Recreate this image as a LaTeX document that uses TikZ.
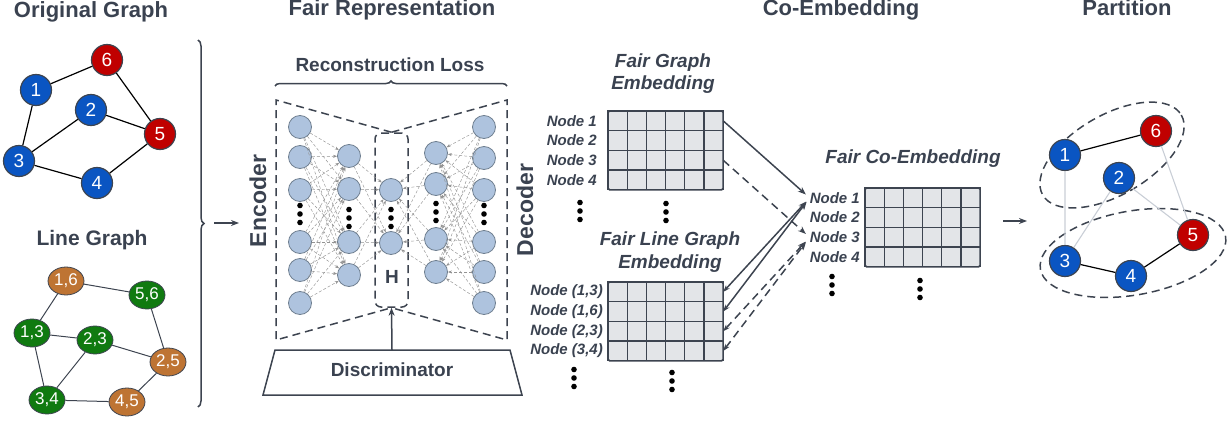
\documentclass[tikz,border=0pt]{standalone}
\usepackage{fontspec}
\setmainfont{Liberation Sans}
\usetikzlibrary{arrows.meta,decorations.pathreplacing,shapes.geometric}
\definecolor{txt}{HTML}{3A4250}
\definecolor{gblue}{HTML}{0A55C2}
\definecolor{gred}{HTML}{C00000}
\definecolor{lorange}{HTML}{BE7433}
\definecolor{lgreen}{HTML}{107A10}
\definecolor{nnfill}{HTML}{AEC3DE}
\definecolor{nnline}{HTML}{6F7F90}
\definecolor{cellfill}{HTML}{E3E5E8}
\definecolor{ln}{HTML}{3D4450}
\definecolor{lightedge}{HTML}{C9CED6}
\newcommand\setfs[1]{\fontsize{#1}{#1}\selectfont}
\newcommand\embgrid[3]{%
  \foreach \rr in {0,...,3}{\foreach \cc in {0,...,5}{\draw[cell] ({#2+\cc*19.2},{#3+\rr*19.7}) rectangle ++(19.2,19.7);}}
  \node[gridbox,minimum width=115.2pt,minimum height=78.8pt] (#1) at (#2,#3) {};}
\begin{document}
\begin{tikzpicture}[x=1pt,y=-1pt,
 title/.style={text=txt,font=\setfs{22}\bfseries,anchor=base,inner sep=0},
 sub/.style={text=txt,font=\setfs{19}\bfseries,anchor=base,inner sep=0},
 emb/.style={text=txt,font=\setfs{19}\bfseries\itshape,anchor=base,inner sep=0},
 rowlab/.style={text=txt,font=\setfs{15}\bfseries\itshape,anchor=east,inner sep=0},
 gnode/.style={circle,draw=ln,line width=1.2pt,minimum size=31pt,inner sep=0,text=white,font=\setfs{19}},
 bn/.style={gnode,fill=gblue},
 rn/.style={gnode,fill=gred},
 lnode/.style={ellipse,draw=ln,line width=0.8pt,minimum width=36pt,minimum height=28pt,inner sep=0,text=white,font=\setfs{17}},
 onode/.style={lnode,fill=lorange},
 gnd/.style={lnode,fill=lgreen},
 gedge/.style={black,line width=1.2pt},
 ledge/.style={ln,line width=1pt},
 lightgedge/.style={lightedge,line width=1.1pt},
 nn/.style={circle,draw=nnline,fill=nnfill,line width=0.8pt,minimum size=23pt,inner sep=0},
 nnedge/.style={densely dashed,gray!85,line width=0.45pt,-{Stealth[length=4pt,width=3pt]}},
 bigdash/.style={ln,line width=1.5pt,dash pattern=on 8pt off 5pt},
 cell/.style={fill=cellfill,draw=ln,line width=1.3pt},
 gridbox/.style={draw=ln,line width=1.5pt,rounded corners=1.5pt,inner sep=0,outer sep=0,anchor=north west},
 conn/.style={ln,line width=1.5pt,-{Stealth[length=8pt,width=6pt]}},
 dconn/.style={conn,dash pattern=on 8pt off 5pt},
 biconn/.style={ln,line width=1.5pt,{Stealth[length=7pt,width=5pt]}-{Stealth[length=8pt,width=6pt]}},
 dbiconn/.style={biconn,dash pattern=on 8pt off 5pt},
 vd/.pic={\fill (0,-8.5) circle (2.8); \fill (0,0) circle (2.8); \fill (0,8.5) circle (2.8);},
]
\useasboundingbox (0,0) rectangle (1232,423);

% titles
\node[title] (t1) at (91,17) {Original Graph};
\node[title] (t2) at (392,16) {Fair Representation};
\node[title] (t3) at (841,16) {Co-Embedding};
\node[title] (t4) at (1127,16) {Partition};
\node[title,font=\setfs{21}\bfseries] (t5) at (92,245) {Line Graph};

% original graph
\node[rn] (o6) at (107,60) {6};
\node[bn] (o1) at (36,90) {1};
\node[bn] (o2) at (91,110) {2};
\node[rn] (o5) at (160,134) {5};
\node[bn] (o3) at (19,161) {3};
\node[bn] (o4) at (97,183) {4};
\draw[gedge] (o1)--(o6) (o6)--(o5) (o2)--(o5) (o1)--(o3) (o3)--(o2) (o3)--(o4) (o4)--(o5);

% line graph
\node[onode] (l16) at (66,281) {1,6};
\node[gnd] (l56) at (147,295) {5,6};
\node[gnd] (l13) at (32,333) {1,3};
\node[gnd] (l23) at (95,340) {2,3};
\node[onode] (l25) at (168,362) {2,5};
\node[gnd] (l34) at (47,400) {3,4};
\node[onode] (l45) at (127,402) {4,5};
\draw[ledge] (l16)--(l56) (l16)--(l13) (l56)--(l25) (l13)--(l23) (l13)--(l34) (l23)--(l25) (l23)--(l34) (l34)--(l45) (l45)--(l25);

% left brace and arrow
\coordinate (brt) at (198,40);
\coordinate (brb) at (198,407);
\draw[ln,line width=1.5pt,decorate,decoration={brace,amplitude=6pt}] (brt) -- (brb);
\coordinate (ar1s) at (214,223);
\coordinate (ar1e) at (239,223);
\draw[conn] (ar1s) -- (ar1e);

% reconstruction loss
\node[sub] (rl) at (390,71) {Reconstruction Loss};
\coordinate (rbl) at (275,86);
\coordinate (rbr) at (507,86);
\draw[ln,line width=1.5pt,decorate,decoration={brace,amplitude=5pt}] (rbl) -- (rbr);

% H box and outlines
\node[bigdash,draw,rounded corners=6pt,minimum width=33pt,minimum height=174pt,inner sep=0] (hbox) at (391.5,220) {};
\node[sub] (hl) at (392,283) {H};
\coordinate (oltl) at (276,100);
\coordinate (olbl) at (276,340);
\coordinate (ortr) at (507,100);
\coordinate (orbr) at (507,340);
\draw[bigdash] (hbox.north) -- (oltl) -- (olbl) -- (hbox.south);
\draw[bigdash] (hbox.north) -- (ortr) -- (orbr) -- (hbox.south);

% encoder / decoder labels
\node[rotate=90,text=txt,font=\setfs{23}\bfseries] (enc) at (258,201) {Encoder};
\node[rotate=90,text=txt,font=\setfs{23}\bfseries] (dec) at (525,210) {Decoder};

% network
\foreach \y [count=\i] in {127,157,190,242,270,303} \node[nn] (a\i) at (300,\y) {};
\foreach \y [count=\i] in {156,189,242,275} \node[nn] (b\i) at (349,\y) {};
\foreach \y [count=\i] in {190,243} \node[nn] (c\i) at (391,\y) {};
\foreach \y [count=\i] in {153,184,239,272} \node[nn] (d\i) at (436,\y) {};
\foreach \y [count=\i] in {127,158,190,242,272,303} \node[nn] (e\i) at (484,\y) {};
\foreach \i in {1,...,6}{\foreach \j in {1,...,4}{\draw[nnedge] (a\i) -- (b\j); \draw[nnedge] (e\i) -- (d\j);}}
\foreach \i in {1,...,4}{\foreach \j in {1,2}{\draw[nnedge] (b\i) -- (c\j); \draw[nnedge] (d\i) -- (c\j);}}
\pic at (300,214) {vd};
\pic at (349,218) {vd};
\pic at (391,218) {vd};
\pic at (436,212) {vd};
\pic at (484,214) {vd};

% discriminator
\coordinate (dtl) at (275,350);
\coordinate (dtr) at (510,350);
\coordinate (dbr) at (522,395);
\coordinate (dbl) at (263,395);
\draw[ln,line width=1.5pt] (dtl) -- (dtr) -- (dbr) -- (dbl) -- cycle;
\node[sub] (disc) at (392,376) {Discriminator};
\coordinate (dtop) at (392,350);
\draw[conn] (dtop) -- (hbox.south);

% fair graph embedding
\node[emb] (fgt1) at (663,67) {Fair Graph};
\node[emb] (fgt2) at (663,89) {Embedding};
\embgrid{fg}{608}{111}
\foreach \k [count=\i] in {1,2,3,4}{
  \node[rowlab] (fl\i) at (597,{120.85+(\i-1)*19.7}) {Node \k};
  \coordinate (fgr\i) at (723.2,{120.85+(\i-1)*19.7});}
\pic at (580,211) {vd};
\pic at (666,212) {vd};

% fair line graph embedding
\node[emb] (lgt1) at (670,245) {Fair Line Graph};
\node[emb] (lgt2) at (670,268) {Embedding};
\embgrid{lg}{608}{282}
\foreach \k [count=\i] in {(1,3),(1,6),(2,3),(3,4)}{
  \node[rowlab] (ll\i) at (603,{291.85+(\i-1)*19.7}) {Node \k};
  \coordinate (lgr\i) at (723.2,{291.85+(\i-1)*19.7});}
\pic at (574,378) {vd};
\pic at (672,381) {vd};

% co-embedding
\node[emb] (cot) at (913,163) {Fair Co-Embedding};
\embgrid{co}{865}{188}
\foreach \k [count=\i] in {1,2,3,4}{
  \node[rowlab] (cl\i) at (860,{197.85+(\i-1)*19.7}) {Node \k};}
\pic at (832,285) {vd};
\pic at (920,289) {vd};

% connectors to co-embedding
\draw[conn,shorten >=5pt] (fgr1) -- (cl1.west);
\draw[dconn,shorten >=5pt] (fgr3) -- (cl3.west);
\draw[biconn,shorten >=5pt] (lgr1) -- (cl1.west);
\draw[biconn,shorten >=5pt] (lgr2) -- (cl1.west);
\draw[dbiconn,shorten >=6pt] (lgr3) -- (cl3.west);
\draw[dbiconn,shorten >=6pt] (lgr4) -- (cl3.west);

% arrow to partition
\coordinate (ar2s) at (1003,221);
\coordinate (ar2e) at (1027,221);
\draw[conn] (ar2s) -- (ar2e);

% partition
\draw[bigdash,rotate around={30:(1112,155)}] (1112,155) ellipse [x radius=80, y radius=40];
\draw[bigdash,rotate around={10:(1133,253)}] (1133,253) ellipse [x radius=94, y radius=42];
\node[rn] (p6) at (1156,131) {6};
\node[bn] (p1) at (1065,155) {1};
\node[bn] (p2) at (1119,178) {2};
\node[rn] (p5) at (1193,235) {5};
\node[bn] (p3) at (1065,261) {3};
\node[bn] (p4) at (1131,276) {4};
\draw[lightgedge] (p1)--(p3) (p2)--(p3) (p2)--(p5) (p6)--(p5);
\draw[gedge] (p1)--(p6) (p3)--(p4) (p4)--(p5);
\end{tikzpicture}
\end{document}
